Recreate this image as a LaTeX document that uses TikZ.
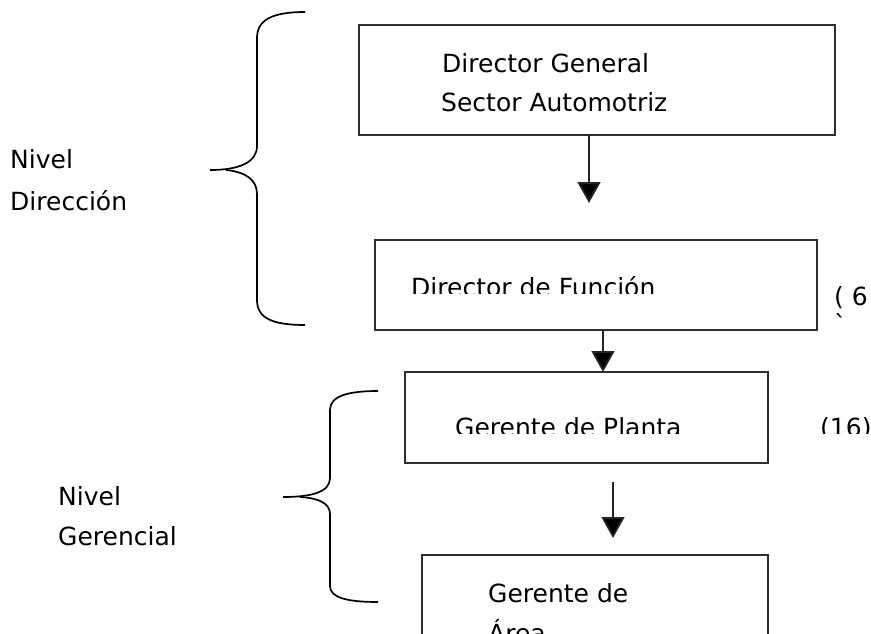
\documentclass[tikz,border=0pt]{standalone}
\usepackage{fontspec}
\setmainfont{DejaVu Sans}
\usetikzlibrary{arrows.meta}

\tikzset{
  box/.style={draw=black!82, line width=2.2pt, inner sep=0pt, outer sep=0pt, fill=none},
  lbl/.style={anchor=base west, inner sep=0pt, text=black, font=\fontsize{25}{29}\selectfont},
  conn/.style={draw=black!85, line width=1.8pt, -{Triangle[width=23pt,length=21pt,fill=black]}},
  brace/.style={draw=black, line width=1.7pt, line join=round}
}

\begin{document}
\begin{tikzpicture}[x=1pt, y=-1pt]
  \clip (0,0) rectangle (871,634);
  \fill[white] (0,0) rectangle (871,634);

  % boxes of the chart
  \node[box, minimum width=476pt, minimum height=110pt] (b1) at (597,80) {};
  \node[box, minimum width=442pt, minimum height=90pt]  (b2) at (596,285) {};
  \node[box, minimum width=363pt, minimum height=91pt]  (b3) at (586.5,417.5) {};
  \node[box, minimum width=346pt, minimum height=110pt] (b4) at (595,610) {};

  % box texts
  \node[lbl] (t1a) at (442,73)  {Director General};
  \node[lbl] (t1b) at (441,112) {Sector Automotriz};

  \begin{scope}
    \clip (376,241) rectangle (871,293);
    \node[lbl] (t2) at (411,296) {Director de Función};
  \end{scope}
  \node[lbl] (n6) at (834,305) {( 6};
  \node[lbl] (n6b) at (834,333) {\textasciigrave};

  \begin{scope}
    \clip (406,373) rectangle (871,433);
    \node[lbl] (t3) at (455,436) {Gerente de Planta};
    \node[lbl] (n16) at (820,436) {(16)};
  \end{scope}

  \node[lbl] (t4a) at (488,602) {Gerente de};
  \node[lbl] (t4b) at (488,642) {Área};

  % level labels
  \node[lbl] (d1) at (10,168) {Nivel};
  \node[lbl] (d2) at (10,210) {Dirección};
  \node[lbl] (g1) at (58,505) {Nivel};
  \node[lbl] (g2) at (58,545) {Gerencial};

  % arrows
  \coordinate (e1) at (589,203);
  \coordinate (s3) at (613,482);
  \coordinate (e3) at (613,538);
  \draw[conn] (b1.south -| e1) -- (e1);
  \draw[conn] (b2.south -| 603,0) -- (b3.north -| 603,0);
  \draw[conn] (s3) -- (e3);

  % braces
  \draw[brace] (305,12) .. controls (272,12) and (257,20) .. (257,38)
    -- (257,146) .. controls (257,162) and (240,170) .. (210,170);
  \draw[brace] (226,170) .. controls (246,172) and (257,180) .. (257,194)
    -- (257,300) .. controls (257,318) and (272,325) .. (305,325);

  \draw[brace] (378,391) .. controls (348,391) and (330,396) .. (330,410)
    -- (330,478) .. controls (330,492) and (312,497) .. (283,497);
  \draw[brace] (300,497) .. controls (318,498) and (330,503) .. (330,514)
    -- (330,586) .. controls (330,598) and (348,602) .. (378,602);
\end{tikzpicture}
\end{document}
